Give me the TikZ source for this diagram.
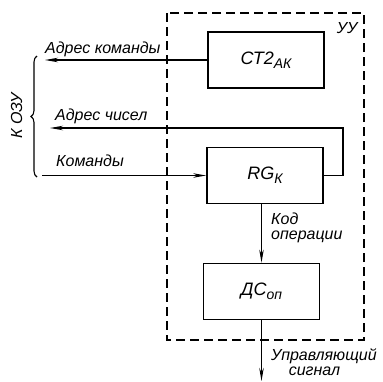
\documentclass[tikz,border=0pt]{standalone}
\usepackage{fontspec}
\setmainfont{Liberation Sans}
\usetikzlibrary{arrows.meta,decorations.pathreplacing}

\newcommand{\drawfont}{\fontsize{16}{15}\selectfont\itshape}
\newcommand{\blockfont}{\fontsize{18}{20}\selectfont\itshape}
\newcommand{\lowidx}[1]{\raisebox{-0.45ex}{\fontsize{14}{16}\selectfont #1}}

\begin{document}
\begin{tikzpicture}[
    x=10pt,
    y=-10pt,
    block/.style={
        draw,
        line width=1.8pt,
        minimum width=116pt,
        minimum height=56pt,
        inner sep=0pt,
        font=\blockfont
    },
    frame/.style={
        draw,
        line width=1.4pt,
        dash pattern=on 9pt off 5pt
    },
    wire/.style={
        line width=1.1pt
    },
    arrow/.style={
        wire,
        -{Stealth[length=13pt,width=4.5pt]}
    },
    tag/.style={
        font=\drawfont,
        inner sep=0pt
    }
]

\useasboundingbox (0,0) rectangle (38.3,38.1);

% -------------------------------------------------
% Control unit frame
% -------------------------------------------------

\draw[frame] (16.7,1.3) rectangle (36.4,34.0);
\node[tag] (uu) at (34.7,2.8) {УУ};

% -------------------------------------------------
% Blocks
% -------------------------------------------------

\node[block] (ct) at (26.6,6.0) {СТ2\lowidx{АК}};
\node[block] (rg) at (26.5,17.55) {RG\lowidx{К}};
\node[block] (dc) at (26.15,29.15) {ДС\lowidx{оп}};

% -------------------------------------------------
% Lines to the memory
% -------------------------------------------------

\coordinate (cmdaddr) at (4.5,6.0);
\coordinate (numaddr) at (5.0,12.8);
\coordinate (cmdin) at (4.2,17.55);
\coordinate (loop) at (34.3,12.8);

\draw[arrow] (ct.west) -- (cmdaddr);
\draw[arrow] (rg.east) -| (loop) -- (numaddr);
\draw[arrow] (cmdin) -- (rg.west);

\node[tag, anchor=base west] (lcmdaddr) at (4.5,5.3) {Адрес команды};
\node[tag, anchor=base west] (lnumaddr) at (5.5,12.0) {Адрес чисел};
\node[tag, anchor=base west] (lcmdin) at (5.6,16.6) {Команды};

% -------------------------------------------------
% Brace: to the memory
% -------------------------------------------------

\draw[wire, decorate, decoration={brace, amplitude=6pt}]
    (3.7,17.7) -- (3.7,5.6);
\node[tag, rotate=90] (ozu) at (1.65,11.6) {К ОЗУ};

% -------------------------------------------------
% Operation code and output signal
% -------------------------------------------------

\draw[arrow] (dc.north |- rg.south) -- (dc.north);
\node[tag, anchor=north west, align=left] (lcode) at (27.1,21.3)
    {Код\\операции};

\coordinate (out) at (26.15,38.1);
\draw[arrow] (dc.south) -- (out);
\node[tag, anchor=north west, align=left] (lout) at (27.1,34.8)
    {Управляющий\\\hspace*{1.1em}сигнал};

\end{tikzpicture}
\end{document}
